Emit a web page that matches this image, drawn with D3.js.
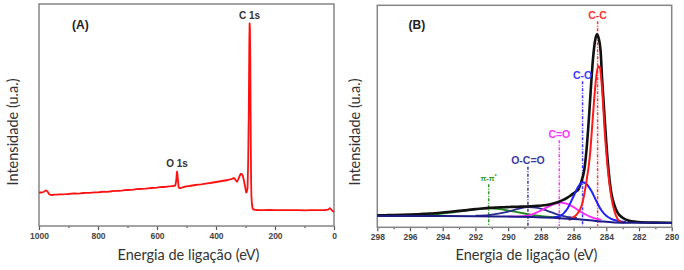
<!DOCTYPE html>
<html><head><meta charset="utf-8">
<script src="https://cdn.jsdelivr.net/npm/d3@7/dist/d3.min.js"></script>
<style>body{margin:0;background:#fff}svg{display:block}</style>
</head><body>
<svg id="chart" width="684" height="270"></svg>
<script>
// ---------- Panel A: survey spectrum (binding energy eV, intensity a.u.) ----------
const surveyA = [
 [1000,1.665],[995,1.68],[990,1.675],[985,1.70],[982,1.725],[978,1.77],[976,1.775],[973,1.75],[970,1.70],[967,1.62],[964,1.575],[960,1.555],[955,1.55],
 [948,1.565],[940,1.57],[930,1.58],[920,1.585],[910,1.59],[900,1.60],[890,1.615],[880,1.625],[870,1.62],[860,1.63],[850,1.65],[840,1.66],[830,1.655],
 [820,1.67],[810,1.68],[800,1.685],[790,1.70],[780,1.715],[770,1.71],[760,1.725],[750,1.745],[740,1.76],[730,1.755],[720,1.77],[710,1.79],[700,1.80],
 [690,1.805],[680,1.82],[670,1.84],[660,1.85],[650,1.855],[640,1.865],[630,1.885],[620,1.90],[610,1.905],[600,1.92],[590,1.94],[580,1.95],[570,1.96],
 [560,1.985],[552,1.99],[545,2.00],[540,2.015],[538,2.02],[535,2.25],[533,2.62],[532,2.715],[531,2.62],[529,2.30],[527,1.98],[525,1.90],[522,1.89],
 [518,1.91],[510,1.95],[500,1.98],[490,2.00],[480,2.025],[470,2.05],[460,2.07],[450,2.085],[440,2.11],[430,2.13],[420,2.15],[410,2.175],[400,2.20],
 [390,2.225],[380,2.25],[370,2.275],[360,2.30],[352,2.33],[345,2.36],[340,2.40],[337,2.37],[333,2.29],[329,2.215],[325,2.32],[320,2.50],[316,2.61],
 [312,2.59],[309,2.50],[305,2.25],[301,1.95],[298,1.68],[296,1.70],[293,1.90],[291,3.2],[289,5.6],[287,9.3],[286,10.135],[285,9.9],[284,8.6],
 [283,6.4],[282,4.0],[281,2.3],[280,1.5],[278,1.05],[276,0.885],[274,0.84],[272,0.825],[266,0.81],[260,0.80],[240,0.795],[220,0.80],[200,0.79],
 [180,0.795],[150,0.79],[120,0.79],[100,0.785],[80,0.79],[60,0.79],[40,0.795],[30,0.80],[22,0.815],[18,0.835],[14,0.885],[11,0.85],[8,0.80],[5,0.75],[2,0.72],[0,0.70]
];
const surveyTicks = [1000, 800, 600, 400, 200, 0];
const surveyPeakNames = ["O 1s", "C 1s"];
const surveyPeakEnergy = [532, 286];
const surveyPeakLabelLevel = [3.15, 10.55];

// ---------- Panel B: C 1s high resolution ----------
const envelopeB = [
 [298.0,0.60],[297.5,0.605],[297.0,0.61],[296.5,0.62],[296.0,0.635],[295.5,0.655],[295.0,0.68],[294.5,0.705],[294.0,0.74],[293.5,0.78],[293.0,0.82],
 [292.5,0.86],[292.0,0.91],[291.6,0.94],[291.2,0.97],[290.8,0.985],[290.5,1.00],[290.1,1.01],[289.8,1.02],[289.4,1.03],[289.0,1.04],[288.6,1.055],
 [288.2,1.075],[287.8,1.10],[287.5,1.14],[287.2,1.20],[286.9,1.275],[286.6,1.38],[286.4,1.475],[286.2,1.58],[286.0,1.70],[285.85,1.79],[285.7,1.90],
 [285.6,2.10],[285.5,2.35],[285.35,2.85],[285.2,3.95],[285.05,5.60],[284.95,6.85],[284.85,8.05],[284.7,9.25],[284.58,9.65],[284.48,9.50],[284.35,8.85],
 [284.25,7.35],[284.15,6.10],[284.0,4.25],[283.85,2.75],[283.7,1.75],[283.5,1.10],[283.3,0.725],[283.0,0.475],[282.6,0.325],[282.2,0.275],[281.5,0.24],
 [281.0,0.235],[280.0,0.23]
];
const ccB = [
 [286.3,0.36],[286.0,0.50],[285.75,0.70],[285.5,1.10],[285.25,2.10],[285.0,3.60],[284.8,5.75],[284.65,7.25],[284.5,8.05],[284.4,8.00],[284.25,6.85],
 [284.1,4.85],[283.9,2.85],[283.7,1.55],[283.5,0.80],[283.3,0.40],[283.1,0.26],[282.9,0.235]
];
const coB = [
 [287.2,0.50],[286.8,0.575],[286.4,0.90],[286.0,1.55],[285.7,2.05],[285.45,2.25],[285.2,2.15],[284.9,1.80],[284.6,1.30],[284.3,0.85],[284.0,0.575],
 [283.7,0.425],[283.3,0.325],[282.8,0.25]
];
const c_oB = [
 [290.0,0.535],[289.3,0.54],[288.8,0.585],[288.3,0.725],[287.8,0.925],[287.3,1.125],[286.8,1.235],[286.3,1.15],[285.8,0.90],[285.3,0.65],[284.8,0.475],[284.3,0.375]
];
const ocoB = [
 [292.0,0.585],[291.2,0.61],[290.6,0.685],[290.0,0.785],[289.4,0.92],[288.8,1.01],[288.2,0.975],[287.6,0.825],[287.0,0.65],[286.4,0.525],[285.8,0.475]
];
const piB = [
 [295.5,0.59],[294.5,0.64],[293.5,0.735],[292.7,0.835],[292.0,0.91],[291.2,0.95],[290.5,0.915],[289.8,0.81],[289.0,0.69],[288.2,0.58],[287.4,0.52],[286.8,0.50]
];
const backgroundB = [
 [298.0,0.565],[294.0,0.56],[292.0,0.555],[290.0,0.535],[288.5,0.51],[287.0,0.47],[286.0,0.415],[285.0,0.35],[284.2,0.285],[283.5,0.245],[282.5,0.225],[280.0,0.22]
];
const hrTicks = [298, 296, 294, 292, 290, 288, 286, 284, 282, 280];
const hrPeakNames = ["C-C", "C-O", "C=O", "O-C=O", "π-π*"];
const hrPeakEnergy = [284.53, 285.45, 286.87, 288.79, 291.19];
const hrPeakLabelLevel = [10.6, 7.6, 4.65, 3.33, 2.45];

// ---------- drawing ----------
const svg = d3.select("#chart");
const FONT = "Lato, 'Open Sans', sans-serif";

function panel(o) {
  const x = d3.scaleLinear().domain(o.xDomain).range([o.left, o.right]);
  const y = d3.scaleLinear().domain([0, 11.1]).range([o.bottom, o.bottom - 222]);
  const g = svg.append("g");
  // minor ticks
  const minor = d3.axisBottom(x).tickValues(o.minor).tickSize(2).tickFormat("");
  g.append("g").attr("transform", `translate(0,${o.bottom})`).call(minor)
    .call(s => s.select(".domain").remove())
    .selectAll("line").attr("stroke", "#555").attr("stroke-width", 1.2);
  const major = d3.axisBottom(x).tickValues(o.ticks).tickSize(4).tickPadding(3).tickFormat(d3.format("d"));
  const ax = g.append("g").attr("transform", `translate(0,${o.bottom})`).call(major);
  ax.select(".domain").remove();
  ax.selectAll("line").attr("stroke", "#555").attr("stroke-width", 1.2);
  ax.selectAll("text").attr("font-family", "Arial, 'Liberation Sans', sans-serif")
    .attr("font-size", 8.5).attr("fill", "#444").attr("font-weight", "bold");
  // frame
  g.append("rect").attr("x", o.left).attr("y", o.bottom - 222)
    .attr("width", o.right - o.left).attr("height", 222)
    .attr("fill", "none").attr("stroke", "#858585").attr("stroke-width", 1.5);
  // titles
  g.append("text").attr("x", (o.left + o.right) / 2 + 2).attr("y", 260)
    .attr("text-anchor", "middle").attr("font-family", FONT).attr("font-size", 14.5)
    .attr("fill", "#333").text("Energia de ligação (eV)");
  g.append("text").attr("transform", `translate(${o.ylabX},132) rotate(-90)`)
    .attr("text-anchor", "middle").attr("dy", "0.35em").attr("font-family", FONT).attr("font-size", 14.5)
    .attr("fill", "#333").text("Intensidade (u.a.)");
  g.append("text").attr("x", o.tagX).attr("y", 29).attr("font-family", "Arial, sans-serif")
    .attr("font-weight", "bold").attr("font-size", 12).attr("fill", "#222").text(o.tag);
  return {x, y, g};
}

// Panel A
const A = panel({xDomain: [1000, 0], left: 39, right: 334, bottom: 226,
  ticks: surveyTicks, minor: d3.range(900, 0, -200), ylabX: 13, tagX: 72, tag: "(A)"});
const lineA = d3.line().x(d => A.x(d[0])).y(d => A.y(d[1]));
A.g.append("path").datum(surveyA).attr("d", lineA).attr("fill", "none")
  .attr("stroke", "#ff1010").attr("stroke-width", 1.8).attr("stroke-linejoin", "round");
A.g.selectAll(".plab").data(surveyPeakNames).join("text")
  .attr("x", (d, i) => A.x(surveyPeakEnergy[i]) + (i === 1 ? 0 : 0))
  .attr("y", (d, i) => A.y(surveyPeakLabelLevel[i]))
  .attr("dy", "0.35em").attr("text-anchor", "middle")
  .attr("font-family", "Arial, sans-serif").attr("font-weight", "bold").attr("font-size", 10)
  .attr("fill", "#333").text(d => d);

// Panel B
const B = panel({xDomain: [298, 280], left: 377.3, right: 671.7, bottom: 227.3,
  ticks: hrTicks, minor: d3.range(297, 280, -2), ylabX: 355, tagX: 408.5, tag: "(B)"});
const lineB = d3.line().curve(d3.curveMonotoneX).x(d => B.x(d[0])).y(d => B.y(d[1]));
const peakColors = ["#ff3333", "#3b3bff", "#ff33ff", "#3a3aa0", "#2a9a2a"];

// dash-dot drop lines
B.g.selectAll(".drop").data(hrPeakEnergy).join("line")
  .attr("x1", d => B.x(d)).attr("x2", d => B.x(d))
  .attr("y1", (d, i) => B.y(hrPeakLabelLevel[i]) + 6).attr("y2", 226)
  .attr("stroke", (d, i) => peakColors[i]).attr("stroke-width", 1.5)
  .attr("stroke-dasharray", "3,1.5,1,1.5");

function curve(data, color, w) {
  B.g.append("path").datum(data).attr("d", lineB).attr("fill", "none")
    .attr("stroke", color).attr("stroke-width", w).attr("stroke-linejoin", "round");
}
curve(piB, "#1e8c1e", 1.8);
curve(ocoB, "#2c2c8e", 1.8);
curve(c_oB, "#ff22ff", 1.8);
curve(envelopeB, "#111", 2.6);
curve(coB, "#2020ff", 2);
curve(ccB, "#ff1a1a", 2);
curve(backgroundB, "#1c1c86", 2);

const lab = B.g.selectAll(".hlab").data(hrPeakNames).join("text")
  .attr("x", (d, i) => B.x(hrPeakEnergy[i]))
  .attr("y", (d, i) => B.y(hrPeakLabelLevel[i]))
  .attr("dy", "0.35em").attr("text-anchor", "middle")
  .attr("font-family", "Arial, sans-serif").attr("font-weight", "bold")
  .attr("font-size", (d, i) => i === 4 ? 7.5 : 10.5)
  .attr("fill", (d, i) => peakColors[i]);
lab.each(function(d) {
  const t = d3.select(this);
  if (d.endsWith("*")) {
    t.append("tspan").text(d.slice(0, -1));
    t.append("tspan").attr("dy", "-0.5em").attr("font-size", 5.5).text("*");
  } else t.text(d);
});
</script>
</body></html>
